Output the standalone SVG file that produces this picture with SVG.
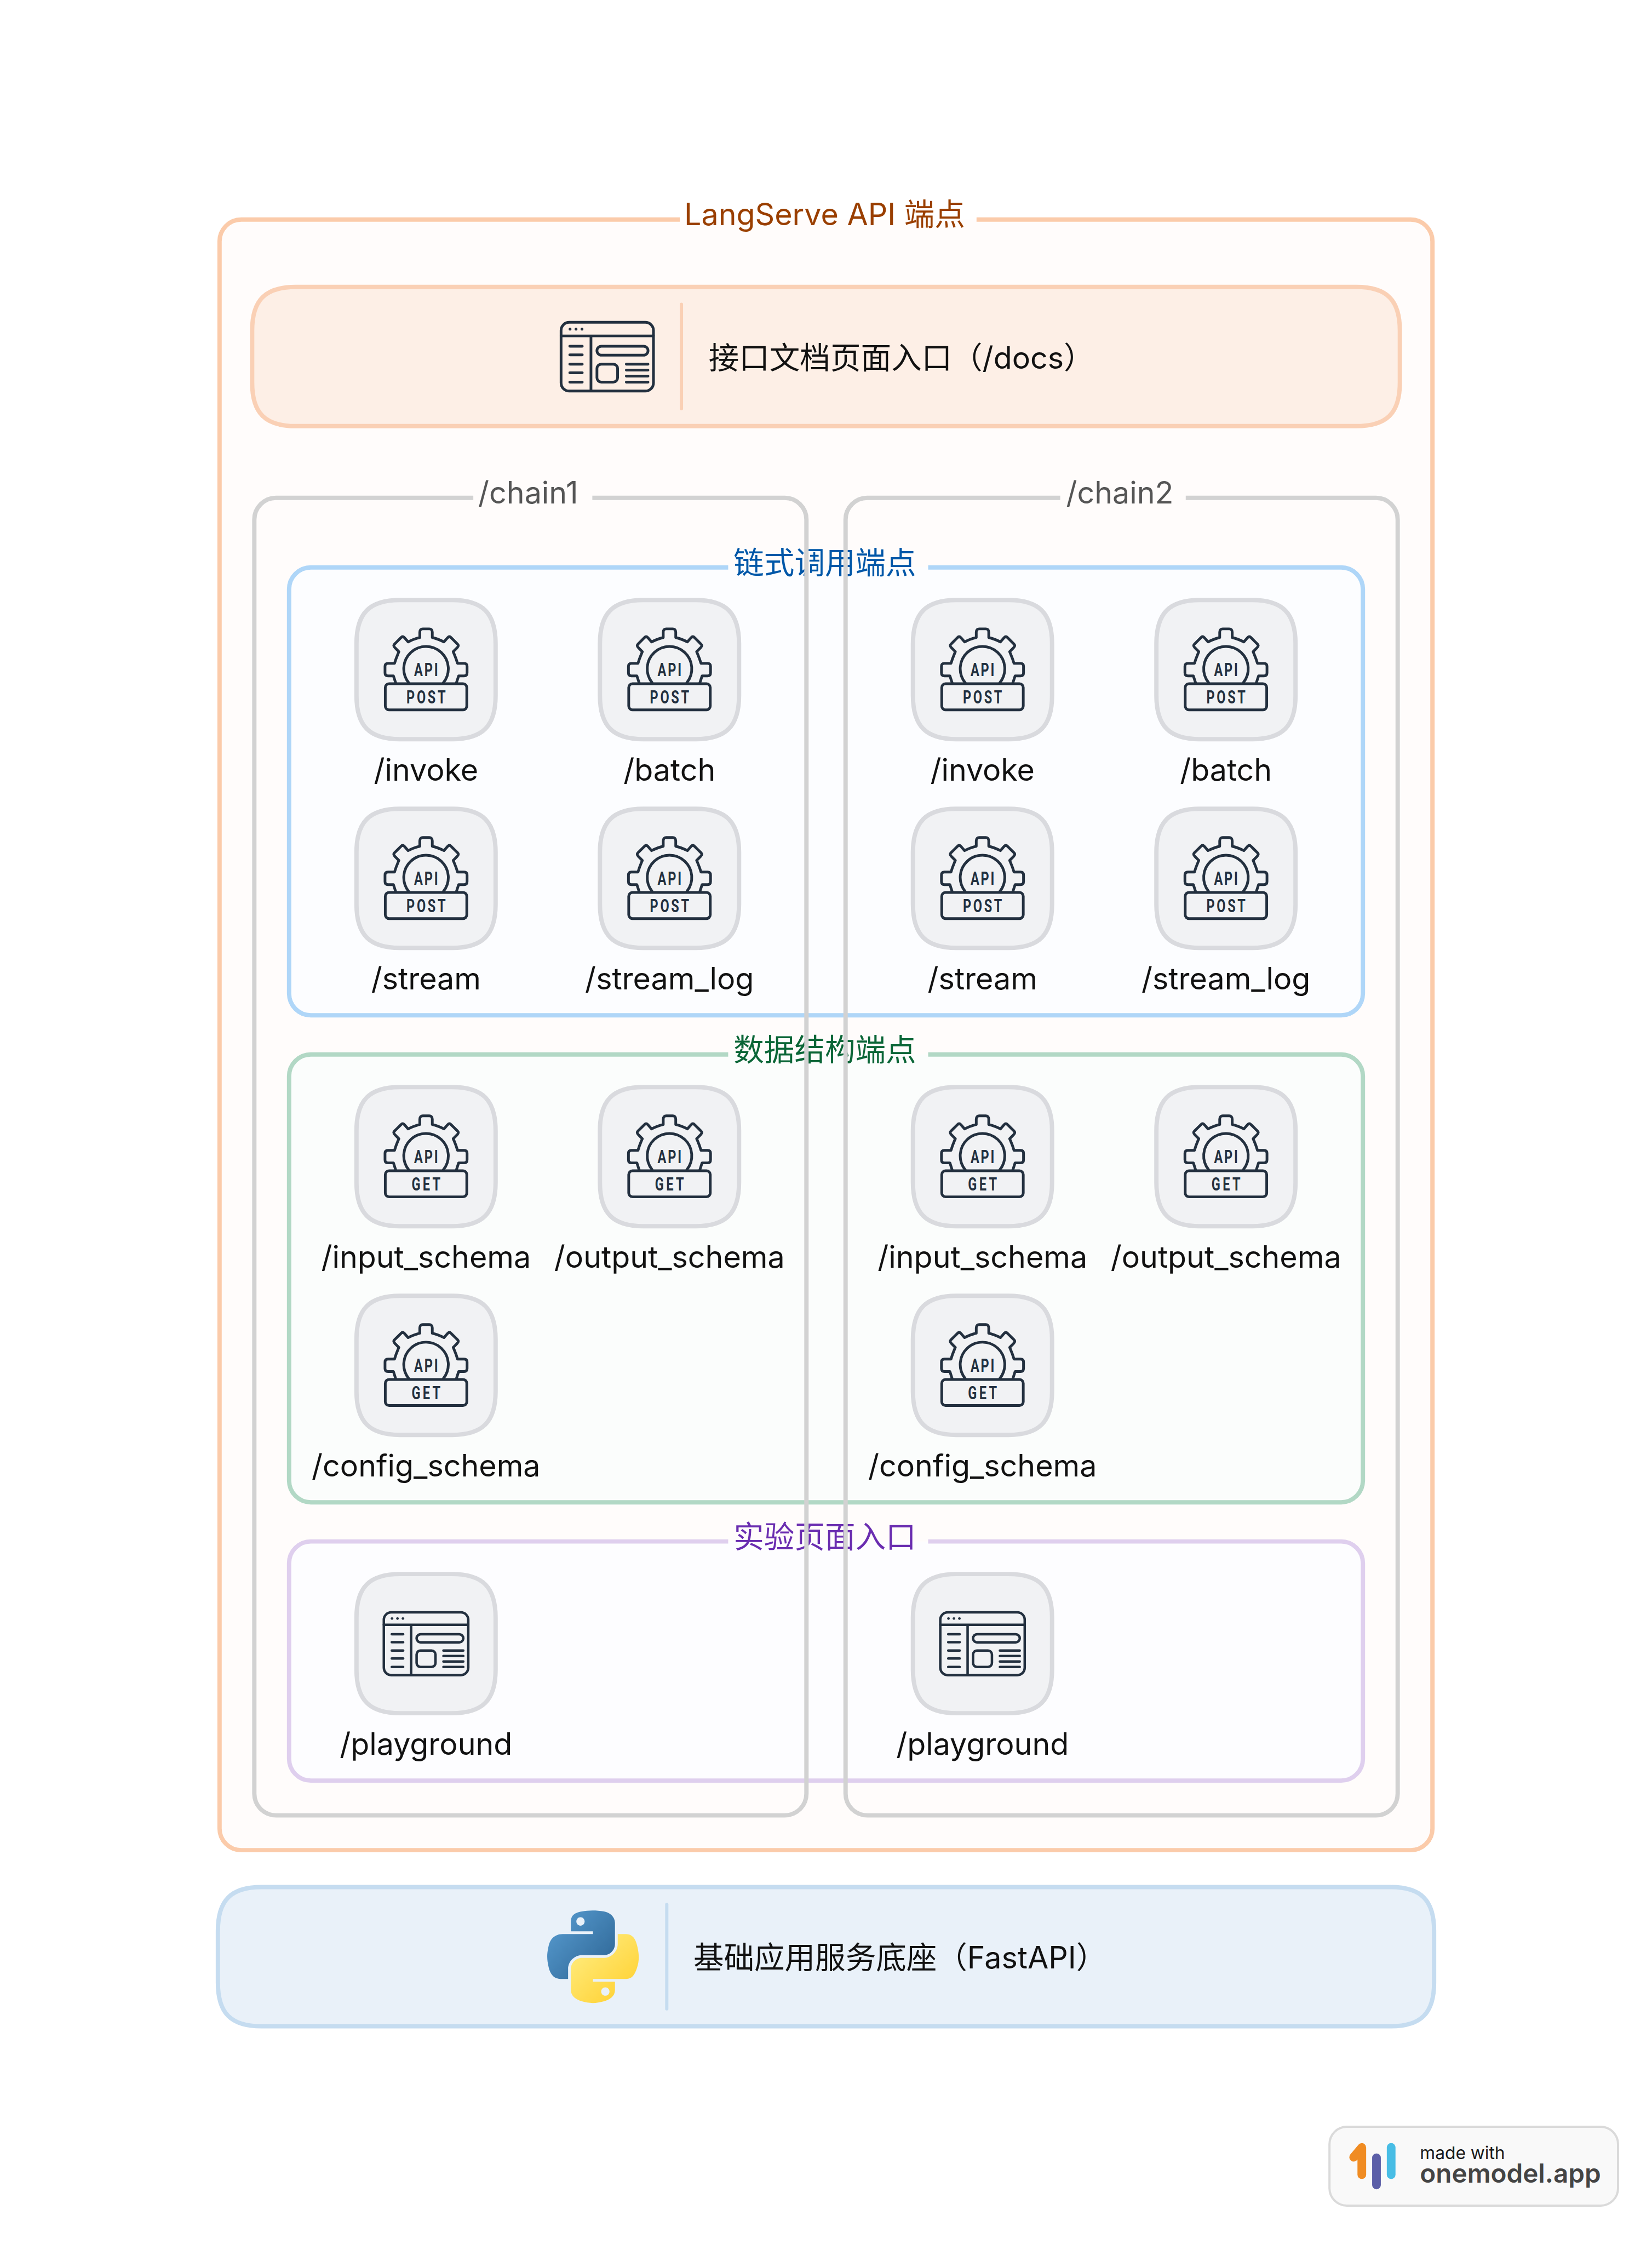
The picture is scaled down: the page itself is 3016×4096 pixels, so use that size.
<svg xmlns="http://www.w3.org/2000/svg" xmlns:xlink="http://www.w3.org/1999/xlink" width="3016" height="4096" viewBox="0 0 3016 4096">
<style>
text{font-family:Inter,"Noto Sans CJK SC",sans-serif;font-size:56px}
.lb{fill:#111;text-anchor:middle}
.ink{fill:none;stroke:#23303f;stroke-width:5;stroke-linecap:round;stroke-linejoin:round}
.ic{font-family:Roboto,sans-serif;font-weight:700;fill:#23303f;text-anchor:middle;font-size:33px}
.sec{fill:none;stroke-width:8}
.nb{fill:#f1f2f4;stroke:#d9dade;stroke-width:8}
.dash{stroke-width:6;stroke-linecap:round}
</style>
<defs>
<linearGradient id="pb" x1="0" y1="0" x2="1" y2="0.9"><stop offset="0" stop-color="#5a9fd4"/><stop offset="1" stop-color="#2d6594"/></linearGradient>
<linearGradient id="py" x1="0.2" y1="0.25" x2="0.75" y2="0.85"><stop offset="0" stop-color="#ffe873"/><stop offset="1" stop-color="#ffd43b"/></linearGradient>
<path id="nodebox" class="nb" d="M-48-128H48C104-128 128-104 128-48V48C128 104 104 128 48 128H-48C-104 128-128 104-128 48V-48C-128-104-104-128-48-128Z"/>
<g id="gear">
<path class="ink" d="M-56 24L-60 11.500H-70C-74 11.500-75.500 9-75.500 6V-6C-75.500-9-74-11.500-70-11.500H-58C-55-22-52-28-50-33L-57-40C-60-43-60-45-58-47L-46-59C-44-61-42-61-40-59L-33-51C-27-54-21-57-11.500-59V-69C-11.500-73-9-75-6-75H6C9-75 11.500-73 11.500-69V-59C21-57 27-54 33-51L40-59C42-61 44-61 46-59L58-47C60-45 60-43 57-40L50-33C52-28 55-22 58-11.500H70C74-11.500 75.500-9 75.500-6V6C75.500 9 74 11.500 70 11.500H60L56 24"/>
<path class="ink" d="M-32 24A41 41 0 1 1 32 24"/>
<rect class="ink" x="-75" y="26" width="150" height="48" rx="7"/>
<text class="ic" transform="scale(.72 1)" x="0" y="12" textLength="61" lengthAdjust="spacing">API</text>
</g>
<g id="post"><use href="#nodebox"/><use href="#gear"/><text class="ic" transform="scale(.72 1)" x="0" y="62" textLength="100" lengthAdjust="spacing">POST</text></g>
<g id="get"><use href="#nodebox"/><use href="#gear"/><text class="ic" transform="scale(.72 1)" x="0" y="62" textLength="74" lengthAdjust="spacing">GET</text></g>
<g id="browser">
<rect class="ink" x="-85" y="-63" width="170" height="126.500" rx="15"/>
<path class="ink" d="M-85-38H85M-30-38V63M-69-19H-46M-69-3H-46M-69 14H-46M-69 30H-46M-69 47H-46M35 14H75M35 25H75M35 36H75M35 47H75"/>
<rect class="ink" x="-19" y="-19" width="94" height="16.500" rx="8.200"/>
<rect class="ink" x="-19" y="14" width="38" height="33" rx="8"/>
<circle cx="-68.500" cy="-50.500" r="2.600" fill="#23303f"/><circle cx="-57.500" cy="-50.500" r="2.600" fill="#23303f"/><circle cx="-46.500" cy="-50.500" r="2.600" fill="#23303f"/>
</g>
<g id="pg"><use href="#nodebox"/><use href="#browser" transform="scale(.914)"/></g>
</defs>
<g transform="scale(0.992105)">
<rect width="3040" height="4128" fill="#fff"/>

<g id="outer">
<rect x="404" y="404" width="2232" height="3000" rx="40" fill="#fffcfb"/>
<path class="sec" stroke="#fbcbaa" d="M1251 404H444A40 40 0 0 0 404 444V3364A40 40 0 0 0 444 3404H2596A40 40 0 0 0 2636 3364V444A40 40 0 0 0 2596 404H1797"/>
<text x="1259" y="414" fill="#9a3f00">LangServe API 端点</text>
</g>

<g id="docs">
<path class="sec" style="fill:#fdefe6" stroke="#fad0b5" d="M544 528H2496C2552 528 2576 552 2576 608V704C2576 760 2552 784 2496 784H544C488 784 464 760 464 704V608C464 552 488 528 544 528Z"/>
<use href="#browser" x="1117.500" y="656"/>
<line class="dash" x1="1254" y1="560" x2="1254" y2="752" stroke="#fad0b5"/>
<text x="1304" y="678" fill="#111">接口文档页面入口（/docs）</text>
</g>

<g id="section-chain">
<path style="fill:#fcfdff" d="M572 1044H2468A40 40 0 0 1 2508 1084V1828A40 40 0 0 1 2468 1868H572A40 40 0 0 1 532 1828V1084A40 40 0 0 1 572 1044Z"/>
<path class="sec" stroke="#afd6f8" d="M1340 1044H572A40 40 0 0 0 532 1084V1828A40 40 0 0 0 572 1868H2468A40 40 0 0 0 2508 1828V1084A40 40 0 0 0 2468 1044H1708"/>
<text x="1350" y="1055" fill="#0057a8">链式调用端点</text>
</g>
<g id="section-schema">
<path style="fill:#fbfdfc" d="M572 1940H2468A40 40 0 0 1 2508 1980V2724A40 40 0 0 1 2468 2764H572A40 40 0 0 1 532 2724V1980A40 40 0 0 1 572 1940Z"/>
<path class="sec" stroke="#b2d8c5" d="M1340 1940H572A40 40 0 0 0 532 1980V2724A40 40 0 0 0 572 2764H2468A40 40 0 0 0 2508 2724V1980A40 40 0 0 0 2468 1940H1708"/>
<text x="1350" y="1951" fill="#0b6637">数据结构端点</text>
</g>
<g id="section-play">
<path style="fill:#fdfdff" d="M572 2836H2468A40 40 0 0 1 2508 2876V3236A40 40 0 0 1 2468 3276H572A40 40 0 0 1 532 3236V2876A40 40 0 0 1 572 2836Z"/>
<path class="sec" stroke="#dfcfee" d="M1340 2836H572A40 40 0 0 0 532 2876V3236A40 40 0 0 0 572 3276H2468A40 40 0 0 0 2508 3236V2876A40 40 0 0 0 2468 2836H1708"/>
<text x="1350" y="2847" fill="#6a2db0">实验页面入口</text>
</g>

<g id="chain1">
<path class="sec" stroke="#d2d2d2" d="M871 916H508A40 40 0 0 0 468 956V3300A40 40 0 0 0 508 3340H1444A40 40 0 0 0 1484 3300V956A40 40 0 0 0 1444 916H1090"/>
<text x="880" y="926" fill="#555">/chain1</text>
</g>
<g id="chain2">
<path class="sec" stroke="#d2d2d2" d="M1951 916H1596A40 40 0 0 0 1556 956V3300A40 40 0 0 0 1596 3340H2532A40 40 0 0 0 2572 3300V956A40 40 0 0 0 2532 916H2182"/>
<text x="1962" y="926" fill="#555">/chain2</text>
</g>

<g id="n1"><use href="#post" x="784" y="1232"/><text class="lb" x="784" y="1436">/invoke</text></g>
<g id="n2"><use href="#post" x="1232" y="1232"/><text class="lb" x="1232" y="1436">/batch</text></g>
<g id="n3"><use href="#post" x="784" y="1616"/><text class="lb" x="784" y="1820">/stream</text></g>
<g id="n4"><use href="#post" x="1232" y="1616"/><text class="lb" x="1232" y="1820">/stream_log</text></g>
<g id="n5"><use href="#get" x="784" y="2128"/><text class="lb" x="784" y="2332">/input_schema</text></g>
<g id="n6"><use href="#get" x="1232" y="2128"/><text class="lb" x="1232" y="2332">/output_schema</text></g>
<g id="n7"><use href="#get" x="784" y="2512"/><text class="lb" x="784" y="2716">/config_schema</text></g>
<g id="n8"><use href="#pg" x="784" y="3024"/><text class="lb" x="784" y="3228">/playground</text></g>
<g id="n9"><use href="#post" x="1808" y="1232"/><text class="lb" x="1808" y="1436">/invoke</text></g>
<g id="n10"><use href="#post" x="2256" y="1232"/><text class="lb" x="2256" y="1436">/batch</text></g>
<g id="n11"><use href="#post" x="1808" y="1616"/><text class="lb" x="1808" y="1820">/stream</text></g>
<g id="n12"><use href="#post" x="2256" y="1616"/><text class="lb" x="2256" y="1820">/stream_log</text></g>
<g id="n13"><use href="#get" x="1808" y="2128"/><text class="lb" x="1808" y="2332">/input_schema</text></g>
<g id="n14"><use href="#get" x="2256" y="2128"/><text class="lb" x="2256" y="2332">/output_schema</text></g>
<g id="n15"><use href="#get" x="1808" y="2512"/><text class="lb" x="1808" y="2716">/config_schema</text></g>
<g id="n16"><use href="#pg" x="1808" y="3024"/><text class="lb" x="1808" y="3228">/playground</text></g>

<g id="fastapi">
<path style="fill:#e9f1f9" stroke="#c5dcf0" stroke-width="8" d="M481 3472H2559C2615 3472 2639 3496 2639 3552V3648C2639 3704 2615 3728 2559 3728H481C425 3728 401 3704 401 3648V3552C401 3496 425 3472 481 3472Z"/>
<g transform="translate(1007 3515) scale(1.515)">
<path fill="url(#pb)" d="M54.919 0C50.335 .022 45.958 .413 42.106 1.095 30.760 3.099 28.700 7.295 28.700 15.032V25.251H55.512V28.657H18.637C10.845 28.657 4.022 33.341 1.887 42.251-.574 52.464-.683 58.837 1.887 69.501 3.793 77.439 8.345 83.095 16.137 83.095H25.356V70.845C25.356 61.995 33.013 54.189 42.106 54.189H68.887C76.342 54.189 82.293 48.051 82.293 40.564V15.032C82.293 7.766 76.163 2.308 68.887 1.095 64.282 .328 59.502-.020 54.919 0ZM40.419 8.220C43.188 8.220 45.450 10.519 45.450 13.345 45.450 16.161 43.188 18.439 40.419 18.439 37.639 18.439 35.387 16.161 35.387 13.345 35.387 10.519 37.639 8.220 40.419 8.220Z"/>
<path fill="url(#py)" d="M85.638 28.657V40.564C85.638 49.794 77.812 57.564 68.888 57.564H42.106C34.771 57.564 28.700 63.842 28.700 71.189V96.720C28.700 103.986 35.019 108.260 42.106 110.345 50.594 112.841 58.733 113.292 68.888 110.345 75.638 108.391 82.294 104.458 82.294 96.720V86.501H55.512V83.095H95.700C103.493 83.095 106.396 77.660 109.106 69.501 111.906 61.102 111.846 53.026 109.106 42.251 107.177 34.494 103.493 28.657 95.700 28.657ZM70.575 93.314C73.354 93.314 75.606 95.591 75.606 98.407 75.606 101.233 73.354 103.532 70.575 103.532 67.805 103.532 65.544 101.233 65.544 98.407 65.544 95.591 67.805 93.314 70.575 93.314Z"/>
</g>
<line class="dash" x1="1227" y1="3504" x2="1227" y2="3696" stroke="#c5dcf0"/>
<text x="1276" y="3622" fill="#111">基础应用服务底座（FastAPI）</text>
</g>

<g id="badge">
<rect x="2446.500" y="3913" width="531" height="145" rx="32" fill="#f9f9f9" stroke="#dadada" stroke-width="4"/>
<path d="M2491 3969L2506 3951V4001" fill="none" stroke="#f08c23" stroke-width="16" stroke-linecap="round" stroke-linejoin="round"/>
<line x1="2533" y1="3970" x2="2533" y2="4020" stroke="#5c5fa8" stroke-width="16" stroke-linecap="round"/>
<line x1="2560" y1="3951" x2="2560" y2="4001" stroke="#48bde5" stroke-width="16" stroke-linecap="round"/>
<text x="2613" y="3972" style="font-size:32px" fill="#1a1a1a">made with</text>
<text x="2613" y="4016" style="font-size:48px;font-weight:600" fill="#444">onemodel.app</text>
</g>
</g>
</svg>
